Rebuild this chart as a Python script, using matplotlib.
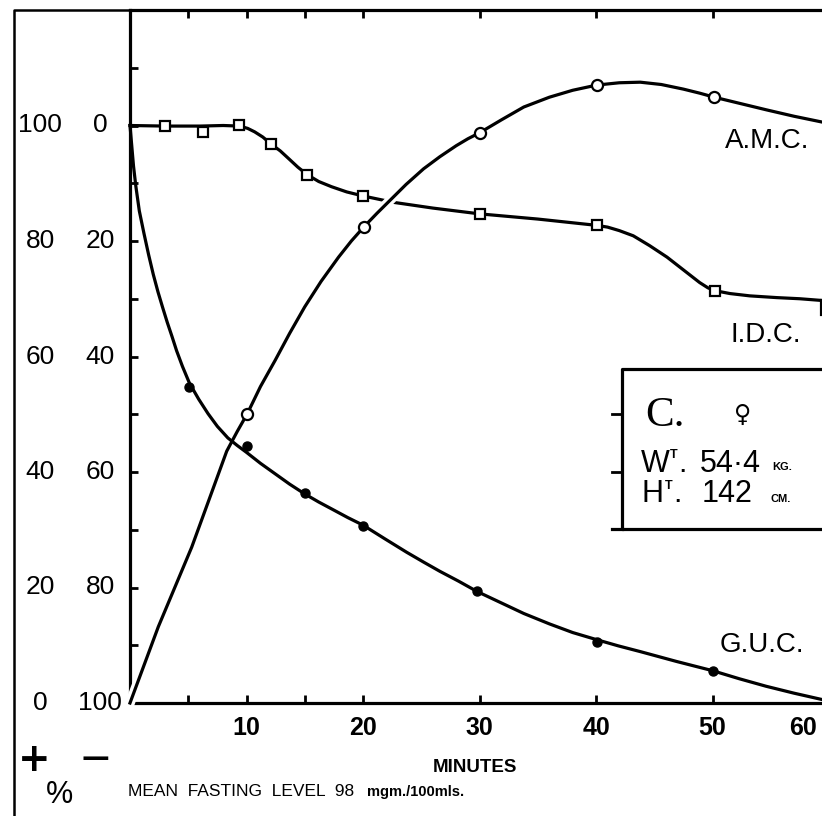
import matplotlib
matplotlib.use("Agg")
import matplotlib.pyplot as plt
import matplotlib.transforms as mtransforms
import matplotlib.patheffects as pe
from matplotlib.lines import Line2D

# ---------------- data ----------------
minutes_labels = [10, 20, 30, 40, 50]
minutes_ticks = [5, 10, 15, 20, 30, 40, 50]
right_scale_ticks = [0, 20, 40, 60, 80, 100]
right_scale_labels = ["0", "20", "40", "60", "80", "100"]
left_scale_labels = ["100", "80", "60", "40", "20", "0"]
minor_y_ticks = [-10, 0, 10, 20, 30, 40, 50, 60, 70, 80, 90]

# G.U.C. (filled dots) and its drawn curve
guc_x = [5.1, 10.0, 15.0, 20.0, 29.8, 40.1, 50.0]
guc_y = [45.2, 55.5, 63.6, 69.4, 80.6, 89.4, 94.4]
guc_curve_x = [0, 0.15, 0.3, 0.5, 0.8, 1.2, 1.6, 2.0, 2.4, 2.8, 3.2, 3.6, 4.0, 4.5,
               5.1, 5.9, 6.7, 7.5, 8.4, 9.2, 10.0, 11.2, 12.45, 13.7, 15.0, 16.2,
               17.5, 18.7, 20.0, 21.9, 23.75, 25.2, 26.6, 28.2, 29.8, 31.8, 33.8,
               36.0, 38.0, 40.0, 41.9, 43.8, 46.9, 50.0, 52.3, 54.6, 57.0, 59.4]
guc_curve_y = [0, 3.5, 7.0, 10.5, 14.8, 18.7, 22.4, 25.8, 28.8, 31.5, 34.1, 36.5,
               39.0, 41.7, 44.6, 47.4, 49.9, 52.1, 54.1, 55.4, 56.6, 58.5, 60.3,
               62.1, 63.8, 65.2, 66.6, 67.9, 69.2, 71.6, 73.9, 75.6, 77.2, 78.9,
               80.7, 82.6, 84.5, 86.3, 87.8, 89.0, 90.1, 91.1, 92.8, 94.4, 95.8,
               97.1, 98.3, 99.4]

# A.M.C. (open circles) and its drawn curve
amc_x = [10.07, 20.1, 30.0, 40.06, 50.15]
amc_y = [49.9, 17.5, 1.27, -7.0, -4.9]
amc_curve_x = [0, 2.43, 5.3, 7.0, 8.3, 9.2, 10.07, 11.2, 12.45, 13.7, 15.0, 16.4,
               17.9, 19.0, 20.1, 21.2, 22.3, 23.7, 25.2, 26.6, 28.0, 29.0, 30.0,
               31.9, 33.8, 36.0, 38.0, 40.06, 42.0, 43.8, 45.6, 47.5, 48.9, 50.15,
               52.4, 54.65, 57.0, 59.4]
amc_curve_y = [100, 86.8, 73.0, 63.6, 56.4, 53.0, 49.9, 45.2, 40.7, 36.0, 31.4,
               27.0, 22.8, 20.0, 17.5, 15.2, 13.0, 10.2, 7.5, 5.4, 3.5, 2.3, 1.27,
               -1.0, -3.2, -4.9, -6.1, -7.0, -7.4, -7.5, -7.1, -6.3, -5.6, -4.9,
               -3.8, -2.7, -1.6, -0.6]

# I.D.C. (open squares) and its drawn curve
idc_x = [3.0, 6.24, 9.38, 12.1, 15.2, 19.97, 30.0, 40.1, 50.2]
idc_y = [0.17, 1.16, -0.17, 3.17, 8.6, 12.2, 15.4, 17.3, 28.7]
idc_curve_x = [0, 3.0, 6.0, 8.0, 9.4, 10.1, 10.7, 11.4, 12.1, 12.9, 13.6, 14.4,
               15.2, 16.2, 17.3, 18.6, 20.0, 22.6, 26.0, 30.0, 35.0, 40.1, 41.0,
               42.0, 43.2, 44.6, 46.1, 47.5, 48.9, 49.6, 50.2, 51.5, 53.2, 55.5,
               57.5, 59.4]
idc_curve_y = [0, 0.1, 0.1, 0.0, 0.1, 0.5, 1.1, 2.0, 3.2, 4.4, 5.7, 7.2, 8.5, 9.7,
               10.6, 11.5, 12.2, 13.3, 14.3, 15.3, 16.2, 17.3, 17.6, 18.2, 19.1,
               20.8, 22.8, 25.0, 27.2, 28.1, 28.6, 29.1, 29.5, 29.8, 30.0, 30.3]

# ---------------- layout ----------------
W, H = 822, 816
PX_PER_MIN = 11.65
fig = plt.figure(figsize=(W / 100, H / 100), dpi=100)
fig.patch.set_facecolor("white")
AX_L, AX_R, AX_B, AX_T = 130, 822, 703, 10
ax = fig.add_axes([AX_L / W, 1 - AX_B / H, (AX_R - AX_L) / W, (AX_B - AX_T) / H])
ax.set_xlim(0, (AX_R - AX_L) / PX_PER_MIN)
ax.set_ylim(100, -20)

NUM = ["Liberation Sans", "DejaVu Sans"]
LET = ["Liberation Sans", "DejaVu Sans"]
LW = 2.3

for s in ("left", "bottom", "top"):
    ax.spines[s].set_linewidth(LW)
ax.spines["right"].set_visible(False)
ax.set_xticks(minutes_ticks)
ax.set_yticks(minor_y_ticks)
ax.tick_params(axis="both", which="both", direction="in", length=6, width=2,
               labelleft=False, labelbottom=False, top=True, right=False)

def fig_pt(px, py):
    return px / W, 1 - py / H

# frame of the original plate
fig.add_artist(Line2D([14 / W, 14 / W, 1.0], [0.0, 1 - 10 / H, 1 - 10 / H],
                      color="black", lw=1.8, transform=fig.transFigure))

# scale labels (left two columns) positioned on the data scale
ytrans = mtransforms.blended_transform_factory(fig.transFigure, ax.transData)
for v, lab_r, lab_l in zip(right_scale_ticks, right_scale_labels, left_scale_labels):
    ax.text(100 / W, v, lab_r, transform=ytrans, ha="center", va="center",
            fontsize=19, family=NUM, clip_on=False)
    ax.text(40 / W, v, lab_l, transform=ytrans, ha="center", va="center",
            fontsize=19, family=NUM, clip_on=False)

xtrans = mtransforms.blended_transform_factory(ax.transData, fig.transFigure)
for m in minutes_labels:
    ax.text(m, 1 - 728 / H, str(m), transform=xtrans, ha="center", va="center",
            fontsize=18, weight="bold", family=NUM, clip_on=False)
ax.text(ax.get_xlim()[1] - 0.4, 1 - 728 / H, "60", transform=xtrans, ha="right",
        va="center", fontsize=18, weight="bold", family=NUM, clip_on=False)

# curves
ax.plot(idc_curve_x, idc_curve_y, color="black", lw=LW, solid_joinstyle="round",
        clip_on=False, zorder=3)
ax.plot(amc_curve_x, amc_curve_y, color="black", lw=LW, solid_joinstyle="round",
        clip_on=False, zorder=4,
        path_effects=[pe.Stroke(linewidth=7, foreground="white"), pe.Normal()])
ax.plot(guc_curve_x, guc_curve_y, color="black", lw=LW, solid_joinstyle="round",
        clip_on=False, zorder=4.5)

ax.plot(guc_x, guc_y, "o", ms=6.5, color="black", zorder=5, clip_on=False)
ax.plot(amc_x, amc_y, "o", ms=8, mfc="white", mec="black", mew=1.6, zorder=5,
        clip_on=False)
ax.plot(idc_x, idc_y, "s", ms=7.5, mfc="white", mec="black", mew=1.6, zorder=5,
        clip_on=False)
# small vertical stroke at the cut edge after I.D.C.
ax.plot([59.3, 59.3], [30.3, 32.6], color="black", lw=LW, clip_on=False)

# curve names
fig.text(*fig_pt(767, 141), "A.M.C.", ha="center", va="center", fontsize=20,
         family=LET)
fig.text(*fig_pt(766, 335), "I.D.C.", ha="center", va="center", fontsize=20,
         family=LET)
fig.text(*fig_pt(762, 645), "G.U.C.", ha="center", va="center", fontsize=20,
         family=LET)

# subject box
bx0 = (622 - AX_L) / PX_PER_MIN
by0, by1 = (368 - 125) / 5.775, (528 - 125) / 5.775
bx1 = ax.get_xlim()[1] + 2
tick_x0 = (612 - AX_L) / PX_PER_MIN
ax.plot([bx1, bx0, bx0, bx1], [by0, by0, by1, by1], color="black", lw=LW,
        clip_on=False, zorder=2)
for yy in (50, 60):
    ax.plot([tick_x0, bx0], [yy, yy], color="black", lw=2, clip_on=False)
ax.plot([tick_x0, bx0], [by1, by1], color="black", lw=LW, clip_on=False)

fig.text(*fig_pt(645, 426), "C.", ha="left", va="baseline", fontsize=31,
         family=["Liberation Serif", "DejaVu Serif"])
fig.text(*fig_pt(743, 415), "\u2640", ha="center", va="center", fontsize=17,
         family=["DejaVu Sans"])
# W^T.  54.4 KG.
fig.text(*fig_pt(641, 472), "W", ha="left", va="baseline", fontsize=22, family=NUM)
fig.text(*fig_pt(670, 458), "T", ha="left", va="baseline", fontsize=9, family=NUM,
         weight="bold")
fig.text(*fig_pt(678, 472), ".", ha="left", va="baseline", fontsize=22, family=NUM)
fig.text(*fig_pt(700, 472), "54\u00b74", ha="left", va="baseline", fontsize=22,
         family=NUM)
fig.text(*fig_pt(772, 470), "KG.", ha="left", va="baseline", fontsize=8, family=LET,
         weight="bold")
# H^T.  142 CM.
fig.text(*fig_pt(641, 502), "H", ha="left", va="baseline", fontsize=22, family=NUM)
fig.text(*fig_pt(665, 489), "T", ha="left", va="baseline", fontsize=9, family=NUM,
         weight="bold")
fig.text(*fig_pt(673, 502), ".", ha="left", va="baseline", fontsize=22, family=NUM)
fig.text(*fig_pt(702, 502), "142", ha="left", va="baseline", fontsize=22, family=NUM)
fig.text(*fig_pt(770, 502), "CM.", ha="left", va="baseline", fontsize=8, family=LET,
         weight="bold")

# bottom annotations
fig.text(*fig_pt(34, 760), "+", ha="center", va="center", fontsize=28,
         family=["DejaVu Sans"], weight="bold")
fig.text(*fig_pt(95, 758), "\u2014", ha="center", va="center", fontsize=20,
         family=["DejaVu Sans"], weight="bold")
fig.text(*fig_pt(59, 795), "%", ha="center", va="center", fontsize=22, family=NUM)
fig.text(*fig_pt(475, 767), "MINUTES", ha="center", va="center", fontsize=13.5,
         family=LET, weight="bold")
fig.text(*fig_pt(128, 791), "MEAN  FASTING  LEVEL  98", ha="left", va="center",
         fontsize=12.5, family=LET)
fig.text(*fig_pt(367, 792), "mgm./100mls.", ha="left", va="center", fontsize=10.5,
         family=LET, weight="bold")

fig.savefig("out.png", dpi=100, facecolor="white")
